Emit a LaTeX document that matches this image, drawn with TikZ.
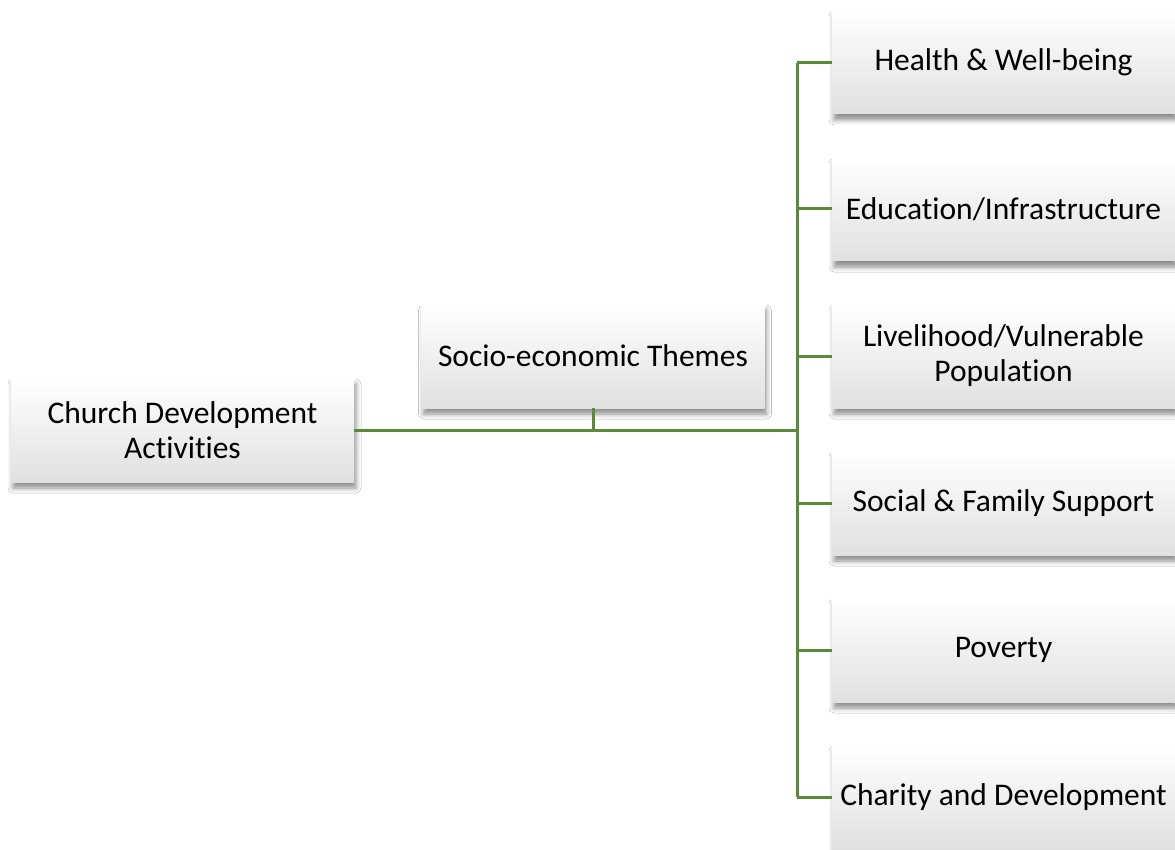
\documentclass[tikz,border=0pt]{standalone}
\usepackage{fontspec}
\setmainfont{Carlito}[Ligatures=NoCommon]
\usetikzlibrary{shadows.blur}
\definecolor{linkgreen}{RGB}{88,138,56}
\definecolor{boxgrey}{RGB}{224,224,224}
\tikzset{
  themebox/.style={rectangle, minimum width=343pt, minimum height=104pt,
    inner sep=0pt, align=center, font=\fontsize{31.5}{35}\selectfont,
    top color=white, middle color=white, bottom color=boxgrey,
    blur shadow={shadow xshift=2pt, shadow yshift=-6pt,
      shadow blur radius=5pt, shadow opacity=45}},
  link/.style={draw=linkgreen, line width=3pt}
}
\begin{document}
\begin{tikzpicture}[x=1pt,y=-1pt]
\clip (0,0) rectangle (1175,850);
\useasboundingbox (0,0) rectangle (1175,850);
\fill[white] (0,0) rectangle (1175,850);

% junction points of the tree
\coordinate (hub) at (797,430);
\coordinate (top) at (797,63);
\coordinate (bot) at (797,797);
\coordinate (sj) at (593,430);

% boxes
\node[themebox] (church) at (182.5,430) {Church Development\\Activities};
\node[themebox] (socio) at (593,356) {Socio-economic Themes};
\node[themebox] (health) at (1003.5,62) {Health \& Well-being};
\node[themebox] (edu) at (1003.5,209) {Education/Infrastructure};
\node[themebox] (live) at (1003.5,356) {Livelihood/Vulnerable\\Population};
\node[themebox] (social) at (1003.5,503) {Social \& Family Support};
\node[themebox] (pov) at (1003.5,650) {Poverty};
\node[themebox] (char) at (1003.5,797) {Charity and Development};

% connectors
\draw[link] (church.east) -- (hub);
\draw[link] (socio.south) -- (sj);
\draw[link] (top) -- (bot);
\draw[link] (top) -- (health.west |- top);
\draw[link] (hub |- edu.west) -- (edu.west);
\draw[link] (hub |- live.west) -- (live.west);
\draw[link] (hub |- social.west) -- (social.west);
\draw[link] (hub |- pov.west) -- (pov.west);
\draw[link] (bot) -- (char.west |- bot);
\end{tikzpicture}
\end{document}
